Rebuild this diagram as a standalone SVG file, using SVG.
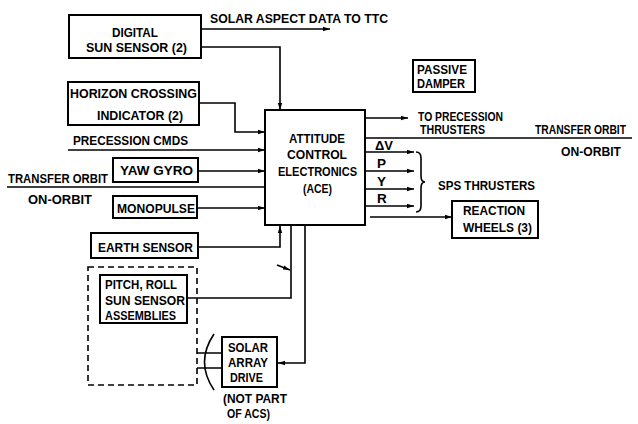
<svg xmlns="http://www.w3.org/2000/svg" width="638" height="424" viewBox="0 0 638 424">
<style>
.bx{fill:#fff;stroke:#000;stroke-width:2}
.ln{fill:none;stroke:#000;stroke-width:1.6}
.ar{fill:none;stroke:#000;stroke-width:1.6;marker-end:url(#ah)}
.t{font-family:"Liberation Sans",Arial,sans-serif;font-weight:bold;font-size:13.5px;fill:#000}
.s{font-size:12.5px}
</style>
<defs>
<marker id="ah" markerWidth="8" markerHeight="6" refX="7" refY="3" orient="auto" markerUnits="userSpaceOnUse">
<path d="M0,0.8 L7,3 L0,5.2 Z" fill="#000"/>
</marker>
</defs>
<rect width="638" height="424" fill="#fff"/>

<g id="connectors">
<path class="ar" d="M201,29 H330"/>
<path class="ar" d="M201,47 H280 V110"/>
<path class="ar" d="M199,103 H235 V132 H265"/>
<path class="ar" d="M68,150 H265"/>
<path class="ar" d="M198,171 H265"/>
<path class="ln" d="M7,187 H265"/>
<path class="ar" d="M197,208 H265"/>
<path class="ar" d="M198,247 H280 V226"/>
<path class="ln" d="M187,298 H291 V225"/>
<path class="ar" d="M277,265 L290,270"/>
<path class="ar" d="M305,225 V363 H278"/>
<path class="ar" d="M365,118 H408"/>
<path class="ln" d="M365,138 H632"/>
<path class="ar" d="M365,152 H414"/>
<path class="ar" d="M365,171 H414"/>
<path class="ar" d="M365,189 H414"/>
<path class="ar" d="M365,206 H414"/>
<path class="ar" d="M370,217 H452"/>
<path class="ln" d="M416,152 Q421,152 421,158 V176 Q421,182 425,182 Q421,182 421,188 V206 Q421,212 416,212"/>
<path class="ln" d="M197,353 H222 M197,368 H222"/>
<path class="ln" d="M214,334 Q195,362 214,390"/>
</g>

<g id="digital-sun-sensor">
<rect class="bx" x="69" y="15" width="132" height="43"/>
<text class="t" x="112" y="37" textLength="46" lengthAdjust="spacingAndGlyphs">DIGITAL</text>
<text class="t" x="86" y="52" textLength="101" lengthAdjust="spacingAndGlyphs">SUN SENSOR (2)</text>
</g>
<g id="solar-aspect-label">
<text class="t" x="210" y="23" textLength="178" lengthAdjust="spacingAndGlyphs">SOLAR ASPECT DATA TO TTC</text>
</g>
<g id="horizon-crossing">
<rect class="bx" x="68" y="82" width="131" height="43"/>
<text class="t" x="70" y="98" textLength="127" lengthAdjust="spacingAndGlyphs">HORIZON CROSSING</text>
<text class="t" x="97" y="120" textLength="86" lengthAdjust="spacingAndGlyphs">INDICATOR (2)</text>
</g>
<g id="precession-cmds">
<text class="t" x="73" y="145" textLength="115" lengthAdjust="spacingAndGlyphs">PRECESSION CMDS</text>
</g>
<g id="yaw-gyro">
<rect class="bx" x="113" y="158" width="85" height="24"/>
<text class="t" x="120" y="175" textLength="73" lengthAdjust="spacingAndGlyphs">YAW GYRO</text>
</g>
<g id="transfer-orbit-left">
<text class="t" x="8" y="183" textLength="100" lengthAdjust="spacingAndGlyphs">TRANSFER ORBIT</text>
<text class="t" x="28" y="204" textLength="64" lengthAdjust="spacingAndGlyphs">ON-ORBIT</text>
</g>
<g id="monopulse">
<rect class="bx" x="113" y="196" width="84" height="22"/>
<text class="t" x="117" y="213" textLength="78" lengthAdjust="spacingAndGlyphs">MONOPULSE</text>
</g>
<g id="earth-sensor">
<rect class="bx" x="91" y="233" width="107" height="25"/>
<text class="t" x="98" y="252" textLength="95" lengthAdjust="spacingAndGlyphs">EARTH SENSOR</text>
</g>
<g id="sun-sensor-group">
<rect x="88" y="267" width="109" height="118" fill="none" stroke="#000" stroke-width="1.6" stroke-dasharray="6,4"/>
</g>
<g id="pitch-roll">
<rect class="bx" x="100" y="275" width="87" height="48"/>
<text class="t" x="105" y="289" textLength="72" lengthAdjust="spacingAndGlyphs">PITCH, ROLL</text>
<text class="t" x="105" y="305" textLength="80" lengthAdjust="spacingAndGlyphs">SUN SENSOR</text>
<text class="t" x="105" y="320" textLength="71" lengthAdjust="spacingAndGlyphs">ASSEMBLIES</text>
</g>
<g id="solar-array-drive">
<rect class="bx" x="222" y="337" width="55" height="50"/>
<text class="t" x="228" y="352" textLength="40" lengthAdjust="spacingAndGlyphs">SOLAR</text>
<text class="t" x="228" y="367" textLength="40" lengthAdjust="spacingAndGlyphs">ARRAY</text>
<text class="t" x="230" y="382" textLength="33" lengthAdjust="spacingAndGlyphs">DRIVE</text>
<text class="t" x="223" y="403" textLength="64" lengthAdjust="spacingAndGlyphs">(NOT PART</text>
<text class="t" x="227" y="418" textLength="43" lengthAdjust="spacingAndGlyphs">OF ACS)</text>
</g>
<g id="ace">
<rect class="bx" x="265" y="110" width="100" height="115"/>
<text class="t" x="289" y="143" textLength="56" lengthAdjust="spacingAndGlyphs">ATTITUDE</text>
<text class="t" x="287" y="159" textLength="60" lengthAdjust="spacingAndGlyphs">CONTROL</text>
<text class="t" x="278" y="176" textLength="79" lengthAdjust="spacingAndGlyphs">ELECTRONICS</text>
<text class="t" x="303" y="193" textLength="29" lengthAdjust="spacingAndGlyphs">(ACE)</text>
</g>
<g id="passive-damper">
<rect class="bx" x="413" y="60" width="62" height="32"/>
<text class="t" x="417" y="74" textLength="50" lengthAdjust="spacingAndGlyphs">PASSIVE</text>
<text class="t" x="417" y="88" textLength="48" lengthAdjust="spacingAndGlyphs">DAMPER</text>
</g>
<g id="precession-thrusters">
<text class="t s" x="418" y="121" textLength="85" lengthAdjust="spacingAndGlyphs">TO PRECESSION</text>
<text class="t s" x="420" y="134" textLength="65" lengthAdjust="spacingAndGlyphs">THRUSTERS</text>
</g>
<g id="transfer-orbit-right">
<text class="t" x="535" y="134" textLength="91" lengthAdjust="spacingAndGlyphs">TRANSFER ORBIT</text>
<text class="t" x="561" y="156" textLength="60" lengthAdjust="spacingAndGlyphs">ON-ORBIT</text>
</g>
<g id="thruster-labels">
<text class="t" x="375" y="150" textLength="18" lengthAdjust="spacingAndGlyphs">ΔV</text>
<text class="t" x="377" y="168">P</text>
<text class="t" x="377" y="186">Y</text>
<text class="t" x="377" y="203">R</text>
</g>
<g id="sps-thrusters">
<text class="t" x="438" y="190" textLength="97" lengthAdjust="spacingAndGlyphs">SPS THRUSTERS</text>
</g>
<g id="reaction-wheels">
<rect class="bx" x="452" y="201" width="86" height="37"/>
<text class="t" x="463" y="215" textLength="62" lengthAdjust="spacingAndGlyphs">REACTION</text>
<text class="t" x="463" y="232" textLength="69" lengthAdjust="spacingAndGlyphs">WHEELS (3)</text>
</g>
</svg>
